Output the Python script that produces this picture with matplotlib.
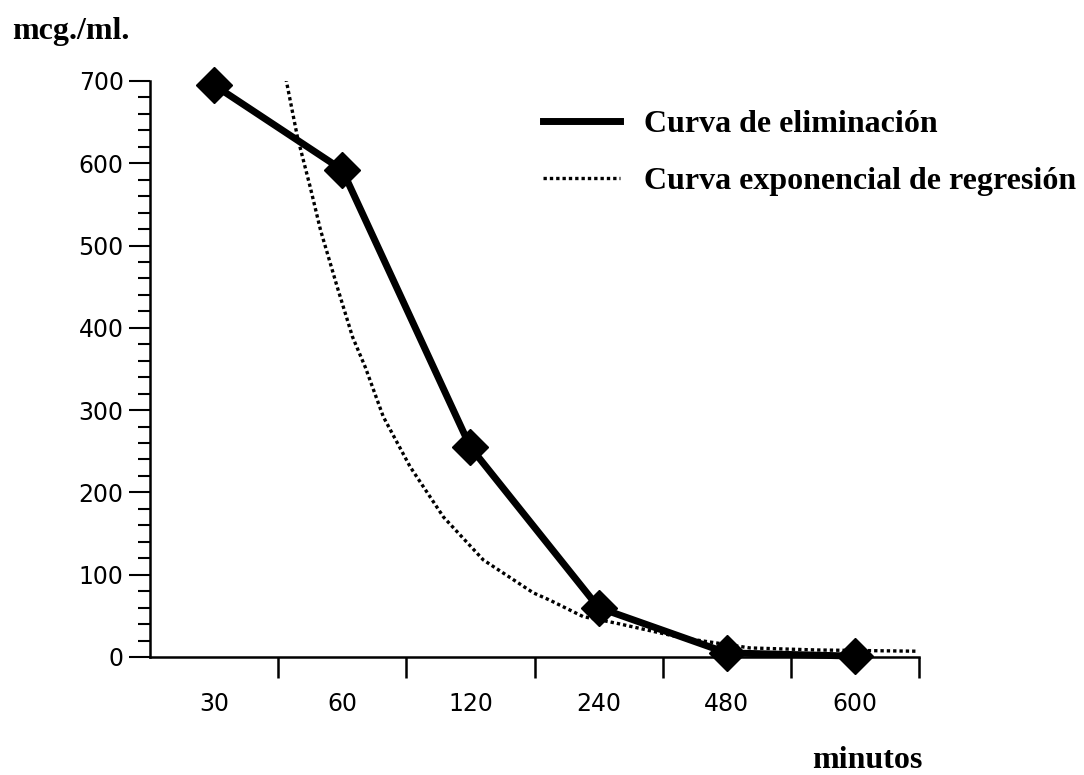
import matplotlib
matplotlib.use('Agg')
import matplotlib.pyplot as plt
from matplotlib.ticker import MultipleLocator, FixedLocator
from matplotlib.lines import Line2D

# datos de la curva de eliminacion
minutos = ['30', '60', '120', '240', '480', '600']
conc = [695, 592, 255, 60, 5, 1]

# curva exponencial de regresion (posicion de categoria, valor)
reg_pos = [0.56, 0.65, 0.75, 0.83, 0.96, 1.08, 1.18, 1.32, 1.53, 1.79, 2.10,
           2.49, 2.62, 2.88, 3.14, 3.66, 4.18, 4.70, 5.48]
reg_val = [703, 632, 571, 519, 450, 389, 352, 292, 231, 170, 118,
           78, 69, 49, 41, 23, 11, 8.5, 7]

fig = plt.figure(figsize=(10.84, 7.75), dpi=100)
ax = fig.add_axes([0.1384, 0.1523, 0.7094, 0.7432])

x = list(range(len(minutos)))
dotted = (0, (1.0, 0.9))
ax.plot(x, conc, c='black', lw=5, marker='D', ms=18, clip_on=False, zorder=3)
ax.plot(reg_pos, reg_val, c='black', lw=2.4, ls=dotted, zorder=2)

ax.set_xlim(-0.5, len(minutos) - 0.5)
ax.set_ylim(0, 700)

ax.spines['top'].set_visible(False)
ax.spines['right'].set_visible(False)
ax.spines['left'].set_linewidth(1.8)
ax.spines['bottom'].set_linewidth(1.8)

# eje y: principal cada 100, secundario cada 20
ax.yaxis.set_major_locator(MultipleLocator(100))
ax.yaxis.set_minor_locator(MultipleLocator(20))
ax.tick_params(axis='y', which='major', length=15, width=1.5, labelsize=17, pad=4)
ax.tick_params(axis='y', which='minor', length=9, width=1.5)

# eje x: etiquetas en el centro, marcas entre categorias
ax.set_xticks(x)
ax.set_xticklabels(minutos)
ax.xaxis.set_minor_locator(FixedLocator([i + 0.5 for i in x]))
ax.tick_params(axis='x', which='major', length=0, labelsize=17, pad=25)
ax.tick_params(axis='x', which='minor', length=15, width=1.8)

serif = ['Liberation Serif', 'DejaVu Serif']
fig.text(0.011, 0.95, 'mcg./ml.', family=serif, fontweight='bold', fontsize=23,
         va='baseline', ha='left')
fig.text(0.80, 0.009, 'minutos', family=serif, fontweight='bold', fontsize=23,
         va='baseline', ha='center')

handles = [Line2D([], [], c='black', lw=5),
           Line2D([], [], c='black', lw=2.4, ls=dotted)]
labels = ['Curva de eliminación', 'Curva exponencial de regresión']
fig.legend(handles, labels, loc='upper left', bbox_to_anchor=(0.501, 0.858),
           frameon=False, borderpad=0, borderaxespad=0,
           handlelength=2.4, handletextpad=0.75, labelspacing=0.85,
           prop={'family': serif, 'weight': 'bold', 'size': 23})

fig.savefig('out.png', dpi=100)
